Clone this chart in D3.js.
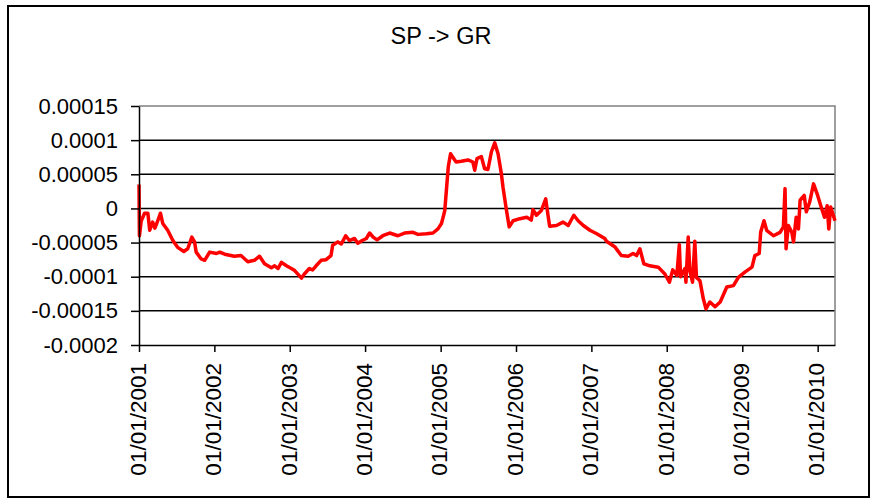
<!DOCTYPE html>
<html>
<head>
<meta charset="utf-8">
<script src="https://d3js.org/d3.v7.min.js"></script>
<style>
  body { margin: 0; background: #fff; }
  text { font-family: "Liberation Sans", Arial, sans-serif; }
</style>
</head>
<body>
<svg id="drawing_region"></svg>
<script>
const title = "SP -> GR";

const dates = [
  "2001-01-01","2001-01-03","2001-01-12","2001-01-28","2001-02-13","2001-02-22","2001-03-08","2001-03-19",
  "2001-04-02","2001-04-15","2001-04-26","2001-05-20","2001-06-14","2001-07-07","2001-08-06","2001-08-25",
  "2001-09-14","2001-09-27","2001-10-05","2001-10-29","2001-11-15","2001-12-09","2002-01-11","2002-01-27",
  "2002-02-20","2002-04-08","2002-05-10","2002-06-12","2002-07-14","2002-08-08","2002-09-01","2002-10-04",
  "2002-10-20","2002-11-05","2002-11-22","2002-12-16","2003-01-09","2003-01-25","2003-02-27","2003-03-13",
  "2003-04-06","2003-04-22","2003-05-09","2003-06-02","2003-06-26","2003-07-20","2003-07-28","2003-08-22",
  "2003-09-08","2003-09-29","2003-10-17","2003-11-11","2003-11-27","2003-12-18","2004-01-07","2004-01-23",
  "2004-02-09","2004-02-28","2004-03-27","2004-04-29","2004-06-08","2004-07-10","2004-08-20","2004-09-13",
  "2004-10-24","2004-11-25","2004-12-19","2005-01-05","2005-01-13","2005-01-21","2005-01-30","2005-02-07",
  "2005-02-18","2005-03-01","2005-03-17","2005-04-11","2005-05-13","2005-06-06","2005-06-15","2005-06-26",
  "2005-07-17","2005-08-02","2005-08-18","2005-09-04","2005-09-20","2005-10-06","2005-10-22","2005-10-30",
  "2005-11-16","2005-11-29","2005-12-18","2006-01-20","2006-02-22","2006-03-16","2006-03-24","2006-04-10",
  "2006-05-04","2006-05-25","2006-06-05","2006-06-13","2006-07-16","2006-08-17","2006-09-11","2006-10-08",
  "2006-10-29","2006-11-23","2006-12-25","2007-01-27","2007-03-07","2007-03-15","2007-04-24","2007-05-26",
  "2007-06-28","2007-07-22","2007-08-08","2007-08-24","2007-09-12","2007-10-11","2007-11-21","2007-12-23",
  "2008-01-14","2008-01-30","2008-02-19","2008-03-02","2008-03-08","2008-03-29","2008-04-03","2008-04-14",
  "2008-04-22","2008-05-05","2008-05-16","2008-05-24","2008-06-10","2008-06-26","2008-07-09","2008-07-28",
  "2008-08-22","2008-09-16","2008-10-18","2008-11-19","2008-12-13","2009-01-15","2009-02-17","2009-03-03",
  "2009-03-24","2009-03-31","2009-04-16","2009-04-29","2009-06-01","2009-07-03","2009-07-19","2009-07-27",
  "2009-08-01","2009-08-12","2009-08-29","2009-09-06","2009-09-19","2009-09-30","2009-10-08","2009-10-28",
  "2009-11-07","2009-11-23","2009-12-12","2010-01-01","2010-01-18","2010-02-03","2010-02-16","2010-02-24",
  "2010-03-05","2010-03-26"
];

const values = [
  3.5e-5,-4.0e-5,-1.8e-5,-0.7e-5,-0.7e-5,-3.2e-5,-2.0e-5,-2.9e-5,
  -1.8e-5,-0.7e-5,-2.2e-5,-3.2e-5,-4.7e-5,-5.7e-5,-6.3e-5,-5.9e-5,
  -4.2e-5,-4.9e-5,-6.4e-5,-7.4e-5,-7.6e-5,-6.4e-5,-6.6e-5,-6.4e-5,
  -6.7e-5,-7.0e-5,-6.9e-5,-7.8e-5,-7.6e-5,-7.0e-5,-8.1e-5,-8.7e-5,
  -8.4e-5,-8.8e-5,-7.9e-5,-8.4e-5,-8.8e-5,-9.1e-5,-10.2e-5,-9.6e-5,
  -8.8e-5,-9.0e-5,-8.4e-5,-7.6e-5,-7.5e-5,-6.9e-5,-5.4e-5,-4.9e-5,
  -5.2e-5,-4.0e-5,-4.7e-5,-4.4e-5,-5.1e-5,-4.7e-5,-4.4e-5,-3.6e-5,
  -4.2e-5,-4.6e-5,-4.0e-5,-3.6e-5,-4.0e-5,-3.6e-5,-3.5e-5,-3.8e-5,
  -3.7e-5,-3.6e-5,-3.0e-5,-2.2e-5,-1.3e-5,-0.3e-5,3.1e-5,6.1e-5,
  8.0e-5,7.5e-5,6.8e-5,6.9e-5,7.1e-5,6.8e-5,5.6e-5,7.3e-5,
  7.6e-5,5.8e-5,5.7e-5,8.3e-5,9.6e-5,8.0e-5,5.1e-5,3.1e-5,
  -0.3e-5,-2.7e-5,-1.8e-5,-1.5e-5,-1.3e-5,-1.7e-5,-0.2e-5,-1.0e-5,
  -0.3e-5,1.4e-5,-1.0e-5,-2.6e-5,-2.5e-5,-2.0e-5,-2.5e-5,-1.0e-5,
  -1.8e-5,-2.5e-5,-3.2e-5,-3.7e-5,-4.4e-5,-4.8e-5,-5.6e-5,-6.9e-5,
  -7.0e-5,-6.6e-5,-6.9e-5,-5.9e-5,-8.1e-5,-8.4e-5,-8.6e-5,-9.6e-5,
  -10.8e-5,-9.0e-5,-9.8e-5,-5.3e-5,-10.0e-5,-8.8e-5,-10.8e-5,-4.2e-5,
  -9.1e-5,-10.8e-5,-4.8e-5,-10.1e-5,-10.6e-5,-13.2e-5,-14.7e-5,-13.7e-5,
  -14.4e-5,-13.7e-5,-11.5e-5,-11.3e-5,-10.1e-5,-9.3e-5,-8.6e-5,-6.9e-5,
  -6.6e-5,-3.5e-5,-1.8e-5,-3.2e-5,-4.0e-5,-3.5e-5,-2.7e-5,2.9e-5,
  -5.9e-5,-2.5e-5,-3.5e-5,-4.9e-5,-1.3e-5,-3.0e-5,1.2e-5,1.9e-5,
  -0.5e-5,0.9e-5,3.6e-5,1.9e-5,0.2e-5,-1.3e-5,0.4e-5,-3.0e-5,
  0.2e-5,-1.8e-5
];

const yTickValues = [-0.0002, -0.00015, -0.0001, -0.00005, 0, 0.00005, 0.0001, 0.00015];
const yTickLabels = ["-0.0002", "-0.00015", "-0.0001", "-0.00005", "0", "0.00005", "0.0001", "0.00015"];
const xTickDates = ["2001-01-01","2002-01-01","2003-01-01","2004-01-01","2005-01-01",
                    "2006-01-01","2007-01-01","2008-01-01","2009-01-01","2010-01-01"];
const xStart = "2001-01-01";
const xEnd = "2010-03-26";

const parseDate = d3.timeParse("%Y-%m-%d");

class LineChart {

    constructor( config, data ) {
        this.config = {
            parent: config.parent,
            width: config.width || 871,
            height: config.height || 504,
            margin: config.margin || {top:106, right:36, bottom:159, left:139}
        };
        this.data = data;
        this.init();
    }

    init() {
        let self = this;

        self.svg = d3.select( self.config.parent )
            .attr('width', self.config.width)
            .attr('height', self.config.height);

        // outer frame
        self.svg.append('rect')
            .attr('x', 8).attr('y', 6)
            .attr('width', 861).attr('height', 491)
            .attr('fill', 'none')
            .attr('stroke', '#000')
            .attr('stroke-width', 2);

        self.svg.append('text')
            .attr('x', 441).attr('y', 44)
            .attr('text-anchor', 'middle')
            .style('font-size', '23.5px')
            .text(title);

        self.chart = self.svg.append('g')
            .attr('transform', `translate(${self.config.margin.left}, ${self.config.margin.top})`);

        self.inner_width = self.config.width - self.config.margin.left - self.config.margin.right;
        self.inner_height = self.config.height - self.config.margin.top - self.config.margin.bottom;

        self.xscale = d3.scaleTime()
            .range( [0, self.inner_width] );

        self.yscale = d3.scaleLinear()
            .range( [self.inner_height, 0] );

        self.xaxis = d3.axisBottom( self.xscale )
            .tickValues( xTickDates.map(parseDate) )
            .tickFormat( d3.timeFormat("%d/%m/%Y") )
            .tickSize(7)
            .tickSizeOuter(0);

        self.yaxis = d3.axisLeft( self.yscale )
            .tickValues( yTickValues )
            .tickFormat( (d, i) => yTickLabels[i] )
            .tickSize(8)
            .tickPadding(13)
            .tickSizeOuter(0);

        self.grid_group = self.chart.append('g');
        self.line_path = self.chart.append('path');
        self.xaxis_group = self.chart.append('g')
            .attr('transform', `translate(0, ${self.inner_height})`);
        self.yaxis_group = self.chart.append('g');
    }

    update() {
        let self = this;
        self.xscale.domain( [parseDate(xStart), parseDate(xEnd)] );
        self.yscale.domain( [d3.min(yTickValues), d3.max(yTickValues)] );
        self.render();
    }

    render() {
        let self = this;

        self.grid_group.selectAll('line')
            .data( yTickValues.slice(1, -1) )
            .join('line')
            .attr('x1', 0).attr('x2', self.inner_width)
            .attr('y1', d => self.yscale(d)).attr('y2', d => self.yscale(d))
            .attr('stroke', '#000')
            .attr('stroke-width', 1.5);

        // plot area border (top and right)
        self.grid_group.append('path')
            .attr('d', `M0,${self.yscale(yTickValues[yTickValues.length-1])}H${self.inner_width}V${self.inner_height}`)
            .attr('fill', 'none')
            .attr('stroke', '#808080')
            .attr('stroke-width', 1.5);

        const line = d3.line()
            .x( d => self.xscale(d.date) )
            .y( d => self.yscale(d.value) );

        self.line_path
            .datum( self.data )
            .attr('d', line)
            .attr('fill', 'none')
            .attr('stroke', '#ff0000')
            .attr('stroke-width', 3.5)
            .attr('stroke-linejoin', 'round');

        self.xaxis_group
            .call( self.xaxis );
        self.xaxis_group.selectAll('.tick text')
            .attr('transform', 'rotate(-90)')
            .attr('text-anchor', 'end')
            .attr('x', -18)
            .attr('y', 0)
            .attr('dy', '0.28em')
            .style('font-size', '22.5px')
            .attr('fill', '#000');

        self.yaxis_group
            .call( self.yaxis );
        self.yaxis_group.selectAll('.tick text')
            .style('font-size', '22px')
            .attr('fill', '#000');

        self.svg.selectAll('.domain, .tick line')
            .attr('stroke', '#000')
            .attr('stroke-width', 1.5);
    }
}

const data = dates.map( (d, i) => ({ date: parseDate(d), value: values[i] }) );

const line_chart = new LineChart( {parent: '#drawing_region', width: 871, height: 504}, data );
line_chart.update();
</script>
</body>
</html>
